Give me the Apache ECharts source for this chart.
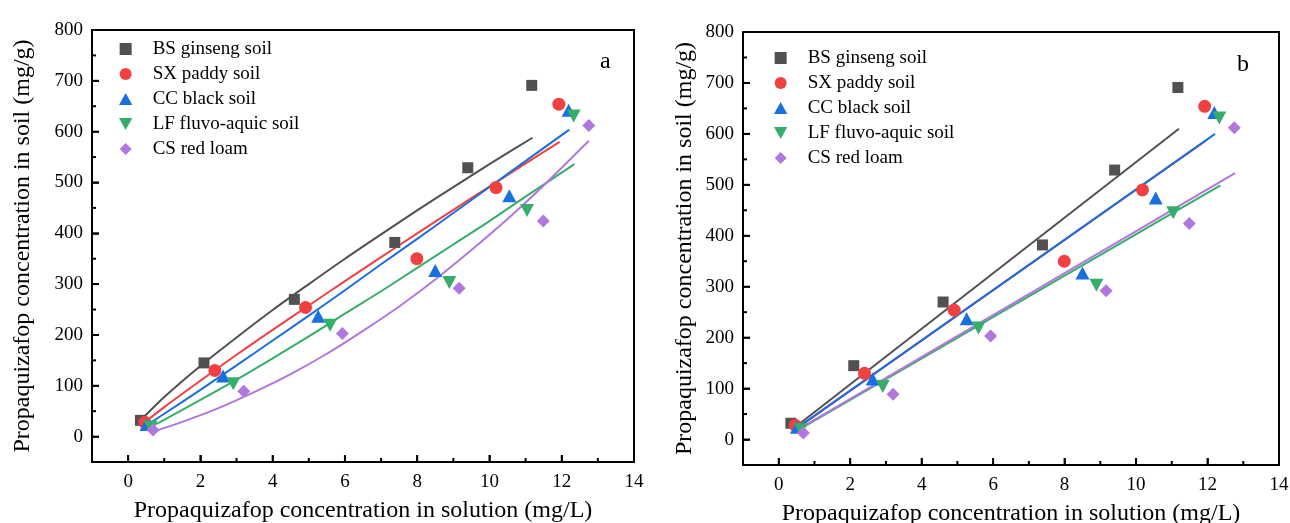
<!DOCTYPE html>
<html>
<head>
<meta charset="utf-8">
<script src="https://cdn.jsdelivr.net/npm/echarts@6/dist/echarts.min.js"></script>
<style>
  html, body { margin: 0; padding: 0; background: #fff; }
  #chart { width: 1290px; height: 523px; }
</style>
</head>
<body>
<div id="chart"></div>
<script>
// soil names (legend order)
var soilNames = ['BS ginseng soil', 'SX paddy soil', 'CC black soil', 'LF fluvo-aquic soil', 'CS red loam'];

// measured points: concentration in solution (mg/L) vs in soil (mg/g)
var bsX = [0.34, 2.10, 4.60, 7.38, 9.40, 11.17];
var bsY = [32, 145, 270, 382, 529, 691];
var sxX = [0.46, 2.40, 4.91, 7.99, 10.18, 11.92];
var sxY = [28, 130, 254, 350, 490, 654];
var ccX = [0.51, 2.63, 5.26, 8.50, 10.55, 12.19];
var ccY = [24, 119, 237, 327, 474, 642];
var lfX = [0.62, 2.91, 5.59, 8.89, 11.04, 12.33];
var lfY = [19, 104, 219, 303, 445, 631];
var csX = [0.69, 3.20, 5.93, 9.16, 11.49, 12.75];
var csY = [13, 89, 203, 292, 424, 612];

// panel a: fitted curves
var bsFitAX = [0.4, 1, 2, 3, 4, 5, 6, 7, 8, 9, 10, 11.19];
var bsFitAY = [36, 78, 139, 195, 249, 300, 350, 398, 445, 491, 536, 588];
var sxFitAX = [0.46, 1, 2, 3, 4, 5, 6, 7, 8, 9, 10, 11.94];
var sxFitAY = [28, 58, 110, 161, 210, 258, 306, 353, 400, 446, 492, 580];
var ccFitAX = [0.51, 1, 2, 3, 4, 5, 6, 7, 8, 9, 10, 12.21];
var ccFitAY = [22, 45, 92, 140, 189, 238, 288, 339, 389, 440, 491, 604];
var lfFitAX = [0.6, 1, 2, 3, 4, 5, 6, 7, 8, 9, 10, 11, 12.35];
var lfFitAY = [19, 33, 72, 112, 154, 197, 242, 286, 332, 378, 424, 472, 536];
var csFitAX = [0.7, 1.5, 2.5, 3.5, 4.5, 5.5, 6.5, 7.5, 8.5, 9.5, 10.5, 11.5, 12.75];
var csFitAY = [10, 29, 56, 88, 123, 163, 208, 256, 309, 367, 428, 494, 582];

// panel b: straight fitted lines (end points)
var bsFitBX = [0.42, 11.2];
var bsFitBY = [22, 610];
var sxFitBX = [0.46, 11.94];
var sxFitBY = [20, 586];
var ccFitBX = [0.5, 12.21];
var ccFitBY = [22, 600];
var lfFitBX = [0.6, 12.36];
var lfFitBY = [21, 499];
var csFitBX = [0.69, 12.77];
var csFitBY = [26, 523];

// tick labels
var xMajor = [0, 2, 4, 6, 8, 10, 12, 14];
var xMinor = [1, 3, 5, 7, 9, 11, 13];
var yMajor = [0, 100, 200, 300, 400, 500, 600, 700, 800];
var yMinor = [50, 150, 250, 350, 450, 550, 650, 750];

var colors = ['#515151', '#F14040', '#1A6FDF', '#37AD6B', '#B177DE'];
var symbols = [
    'path://M0,0H10V10H0Z',
    'path://M5,0A5,5 0 1 1 5,10A5,5 0 1 1 5,0Z',
    'path://M5,0L10,9L0,9Z',
    'path://M0,0L10,0L5,9Z',
    'path://M5,0L10,5L5,10L0,5Z'
];
var symSizes = [[11, 11], [13, 13], [14, 13], [14, 13], [13, 13]];
var font = '"Liberation Serif", "Times New Roman", serif';

var X_MIN = -1, X_MAX = 14, Y_MIN = -50, Y_MAX = 800;

var pointsX = [bsX, sxX, ccX, lfX, csX];
var pointsY = [bsY, sxY, ccY, lfY, csY];
var fitAX = [bsFitAX, sxFitAX, ccFitAX, lfFitAX, csFitAX];
var fitAY = [bsFitAY, sxFitAY, ccFitAY, lfFitAY, csFitAY];
var fitBX = [bsFitBX, sxFitBX, ccFitBX, lfFitBX, csFitBX];
var fitBY = [bsFitBY, sxFitBY, ccFitBY, lfFitBY, csFitBY];

function pairs(xs, ys) {
    return xs.map(function (x, i) { return [x, ys[i]]; });
}

var grids = [
    {left: 92, top: 30, width: 542, height: 432},
    {left: 743, top: 32, width: 536, height: 433}
];
var yNameGap = [57, 46];
var frameLine = {show: true, onZero: false, lineStyle: {color: '#000', width: 2}};

// inward ticks as thin bar symbols sitting on the axis
function tickSeries(p, values, dim, len) {
    return {
        name: 'ticks',
        type: 'scatter',
        xAxisIndex: 2 * p, yAxisIndex: 2 * p,
        silent: true, clip: false, z: 10,
        symbol: 'rect',
        symbolSize: dim === 'x' ? [2, len] : [len, 2],
        symbolOffset: dim === 'x' ? [0, -len / 2] : [len / 2, 0],
        itemStyle: {color: '#000', opacity: 1},
        data: values.map(function (v) { return dim === 'x' ? [v, Y_MIN] : [X_MIN, v]; })
    };
}

var xAxes = [], yAxes = [], series = [], legends = [];

grids.forEach(function (g, p) {
    xAxes.push({
        gridIndex: p, type: 'value', min: X_MIN, max: X_MAX, position: 'bottom',
        name: 'Propaquizafop concentration in solution (mg/L)',
        nameLocation: 'middle', nameGap: 37,
        nameTextStyle: {fontFamily: font, fontSize: 24, color: '#000'},
        axisLine: frameLine,
        axisTick: {show: true, inside: true, length: 7, customValues: xMajor,
            lineStyle: {color: '#000', width: 1.5}},
        axisLabel: {show: true, customValues: xMajor, fontFamily: font, fontSize: 19, color: '#000', margin: 11},
        splitLine: {show: false}
    });
    xAxes.push({
        gridIndex: p, type: 'value', min: X_MIN, max: X_MAX, position: 'top',
        axisLine: frameLine, axisTick: {show: false}, axisLabel: {show: false}, splitLine: {show: false}
    });
    yAxes.push({
        gridIndex: p, type: 'value', min: Y_MIN, max: Y_MAX, position: 'left',
        name: 'Propaquizafop concentration in soil (mg/g)',
        nameLocation: 'middle', nameGap: yNameGap[p],
        nameTextStyle: {fontFamily: font, fontSize: 24, color: '#000'},
        axisLine: frameLine,
        axisTick: {show: true, inside: true, length: 7, customValues: yMajor,
            lineStyle: {color: '#000', width: 1.5}},
        axisLabel: {show: true, customValues: yMajor, fontFamily: font, fontSize: 19, color: '#000', margin: 9},
        splitLine: {show: false}
    });
    yAxes.push({
        gridIndex: p, type: 'value', min: Y_MIN, max: Y_MAX, position: 'right',
        axisLine: frameLine, axisTick: {show: false}, axisLabel: {show: false}, splitLine: {show: false}
    });

    for (var i = 0; i < 5; i++) {
        var fx = p === 0 ? fitAX[i] : fitBX[i];
        var fy = p === 0 ? fitAY[i] : fitBY[i];
        series.push({
            name: soilNames[i] + ' fit',
            type: 'line',
            xAxisIndex: 2 * p, yAxisIndex: 2 * p,
            data: pairs(fx, fy),
            smooth: p === 0 ? 0.3 : false,
            showSymbol: false,
            silent: true,
            z: 2,
            lineStyle: {color: colors[i], width: 2}
        });
    }
    for (var j = 0; j < 5; j++) {
        series.push({
            name: soilNames[j],
            type: 'scatter',
            xAxisIndex: 2 * p, yAxisIndex: 2 * p,
            data: pairs(pointsX[j], pointsY[j]),
            symbol: symbols[j],
            symbolSize: symSizes[j],
            z: 3,
            itemStyle: {color: colors[j], opacity: 1}
        });
    }
    series.push(tickSeries(p, xMajor, 'x', 7));
    series.push(tickSeries(p, xMinor, 'x', 4));
    series.push(tickSeries(p, yMajor, 'y', 7));
    series.push(tickSeries(p, yMinor, 'y', 4));

    legends.push({
        orient: 'vertical',
        left: p === 0 ? 114 : 769,
        top: p === 0 ? 31.5 : 40.5,
        itemWidth: 44, itemHeight: 12, itemGap: 0,
        symbolKeepAspect: true,
        selectedMode: false,
        textStyle: {fontFamily: font, fontSize: 19, color: '#000', lineHeight: 25},
        data: soilNames.map(function (n, k) { return {name: n, icon: symbols[k]}; })
    });
});

var chart = echarts.init(document.getElementById('chart'), null, {renderer: 'canvas'});
chart.setOption({
    backgroundColor: '#fff',
    animation: false,
    grid: grids.map(function (g) {
        return {left: g.left, top: g.top, width: g.width, height: g.height,
            show: false, containLabel: false, outerBoundsMode: 'none'};
    }),
    legend: legends,
    xAxis: xAxes,
    yAxis: yAxes,
    graphic: [
        {type: 'text', left: 600, top: 50, style: {text: 'a', font: '24px ' + font, fill: '#000'}},
        {type: 'text', left: 1237, top: 53, style: {text: 'b', font: '24px ' + font, fill: '#000'}}
    ],
    series: series
});
</script>
</body>
</html>
